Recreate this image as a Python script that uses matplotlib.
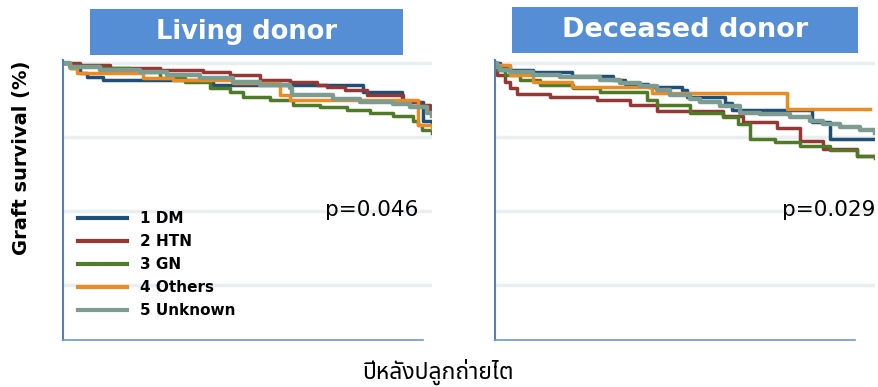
import matplotlib
matplotlib.use("Agg")
import matplotlib.pyplot as plt
from matplotlib.patches import Rectangle

# living donor: years after transplant and graft survival (%)
ld_dm_t = [0, 0.19, 0.46, 0.65, 1.08, 4.07, 8.13, 9.19, 9.76, 10]
ld_dm_s = [100, 99.3, 98.6, 98.1, 97.7, 97.0, 96.1, 94.8, 92.2, 91.6]
ld_htn_t = [0, 0.46, 1.27, 2.63, 3.79, 4.53, 5.34, 6.15, 6.88, 7.15, 7.64, 8.24, 9.21, 9.67, 9.95, 10]
ld_htn_s = [100, 99.7, 99.3, 99.1, 98.8, 98.4, 97.7, 97.4, 97.0, 96.7, 96.3, 95.7, 94.7, 94.3, 93.6, 93.6]
ld_gn_t = [0, 0.19, 1.0, 1.82, 2.63, 3.31, 3.98, 4.53, 4.88, 5.61, 6.23, 6.96, 7.7, 8.32, 8.94, 9.49, 9.62, 9.73, 10]
ld_gn_s = [100, 99.6, 99.3, 98.8, 98.0, 97.4, 96.6, 96.1, 95.4, 95.0, 94.3, 94.0, 93.6, 93.3, 92.9, 92.2, 91.6, 90.9, 90.6]
ld_oth_t = [0, 0.19, 0.38, 2.17, 2.98, 4.61, 5.88, 6.15, 9.62, 10]
ld_oth_s = [100, 99.3, 98.6, 98.0, 97.7, 97.3, 95.7, 95.0, 91.6, 91.2]
ld_unk_t = [0, 0.19, 1.0, 2.09, 2.82, 3.71, 4.61, 5.34, 6.15, 6.21, 7.32, 8.05, 8.94, 9.4, 9.86, 10]
ld_unk_s = [100, 99.5, 99.1, 98.8, 98.4, 98.0, 97.4, 97.0, 96.6, 95.7, 95.1, 94.8, 94.4, 94.0, 93.3, 92.9]

# deceased donor
dd_dm_t = [0, 0.13, 0.39, 1.0, 2.03, 3.11, 3.42, 4.03, 4.92, 5.05, 6.05, 6.24, 8.34, 8.82, 10]
dd_dm_s = [100, 99.5, 99.1, 98.8, 98.3, 97.7, 97.2, 96.8, 96.3, 95.4, 94.6, 93.6, 92.0, 89.8, 89.8]
dd_htn_t = [0, 0.05, 0.26, 0.39, 0.58, 1.45, 2.68, 3.55, 4.26, 6.0, 6.53, 7.42, 8.03, 8.63, 9.53, 10]
dd_htn_s = [100, 98.4, 97.4, 96.6, 95.8, 95.4, 95.0, 94.3, 93.5, 92.9, 92.0, 91.2, 89.5, 88.4, 87.5, 87.4]
dd_gn_t = [0, 0.05, 0.26, 0.66, 1.18, 2.05, 2.76, 4.0, 4.26, 5.13, 6.0, 6.4, 6.71, 7.37, 8.03, 8.82, 9.53, 10]
dd_gn_s = [100, 99.1, 98.4, 97.7, 97.0, 96.6, 96.1, 95.0, 94.3, 93.3, 92.7, 91.8, 89.8, 89.3, 88.8, 88.3, 87.5, 87.2]
dd_oth_t = [0, 0.05, 0.39, 1.0, 2.03, 4.13, 7.68, 9.87]
dd_oth_s = [100, 99.7, 98.4, 97.4, 96.7, 96.0, 93.8, 93.8]
dd_unk_t = [0, 0.05, 0.13, 0.39, 1.0, 1.71, 2.76, 3.29, 3.82, 4.26, 4.61, 5.13, 5.39, 5.92, 6.45, 6.97, 7.76, 8.29, 8.63, 9.08, 9.61, 10]
dd_unk_s = [100, 99.5, 99.1, 98.8, 98.4, 98.1, 97.7, 97.3, 96.9, 96.3, 95.7, 95.2, 94.7, 94.2, 93.3, 93.1, 92.7, 92.2, 91.8, 91.4, 91.0, 90.5]

labels = ["1 DM", "2 HTN", "3 GN", "4 Others", "5 Unknown"]
colors = ["#1F4E79", "#953735", "#4F7A28", "#EE8A22", "#7C9C92"]
grid_vals = [100, 90, 80, 70]

fig = plt.figure(figsize=(8.79, 3.87), dpi=100)
ax1 = fig.add_axes([0.0717, 0.1214, 0.4198, 0.7235])
ax2 = fig.add_axes([0.5631, 0.1214, 0.4323, 0.7235])

panels = [
    (ax1, [(ld_dm_t, ld_dm_s), (ld_htn_t, ld_htn_s), (ld_gn_t, ld_gn_s),
           (ld_oth_t, ld_oth_s), (ld_unk_t, ld_unk_s)], 9.76, "p=0.046", 0.962),
    (ax2, [(dd_dm_t, dd_dm_s), (dd_htn_t, dd_htn_s), (dd_gn_t, dd_gn_s),
           (dd_oth_t, dd_oth_s), (dd_unk_t, dd_unk_s)], 9.47, "p=0.029", 1.0),
]

for ax, curves, xend, ptxt, px in panels:
    for g in grid_vals:
        ax.axhline(g, color="#E9EFF1", lw=2.5, zorder=0)
    for (t, s), c, lab in zip(curves, colors, labels):
        lw = 3.2 if lab == "5 Unknown" else 2.5
        ax.step(t, s, where="post", color=c, lw=lw, label=lab)
    ax.set_xlim(0, 10)
    ax.set_ylim(62.6, 100.4)
    ax.set_xticks([])
    ax.set_yticks([])
    for sp in ["top", "right"]:
        ax.spines[sp].set_visible(False)
    ax.spines["left"].set_color("#4F81BD")
    ax.spines["left"].set_linewidth(1.5)
    ax.spines["bottom"].set_color("#6A9AD0")
    ax.spines["bottom"].set_linewidth(1.2)
    ax.spines["bottom"].set_bounds(0, xend)
    ax.text(px, 0.464, ptxt, transform=ax.transAxes, ha="right", va="center",
            fontsize=15.5, color="black")

leg = ax1.legend(loc="lower left", bbox_to_anchor=(0.004, 0.028), frameon=False,
                 prop={"weight": "bold", "size": 11}, handlelength=3.2,
                 handletextpad=0.85, labelspacing=0.53)
for h in leg.get_lines():
    h.set_linewidth(3.0)

# title boxes
fig.add_artist(Rectangle((0.1024, 0.8579), 0.3561, 0.1189, transform=fig.transFigure,
                         color="#558ED5", lw=0))
fig.add_artist(Rectangle((0.5825, 0.863), 0.3936, 0.1189, transform=fig.transFigure,
                         color="#558ED5", lw=0))
fig.text(0.2804, 0.9173, "Living donor", ha="center", va="center", color="white",
         fontsize=18.5, fontweight="bold")
fig.text(0.7793, 0.9225, "Deceased donor", ha="center", va="center", color="white",
         fontsize=19.5, fontweight="bold")

fig.text(0.025, 0.593, "Graft survival (%)", rotation=90, ha="center", va="center",
         fontsize=14, fontweight="bold")
fig.text(0.498, 0.039, "ปีหลังปลูกถ่ายไต", ha="center", va="center",
         fontsize=16.5, family=["Noto Sans Thai", "DejaVu Sans"])

fig.savefig("out.png", dpi=100)
